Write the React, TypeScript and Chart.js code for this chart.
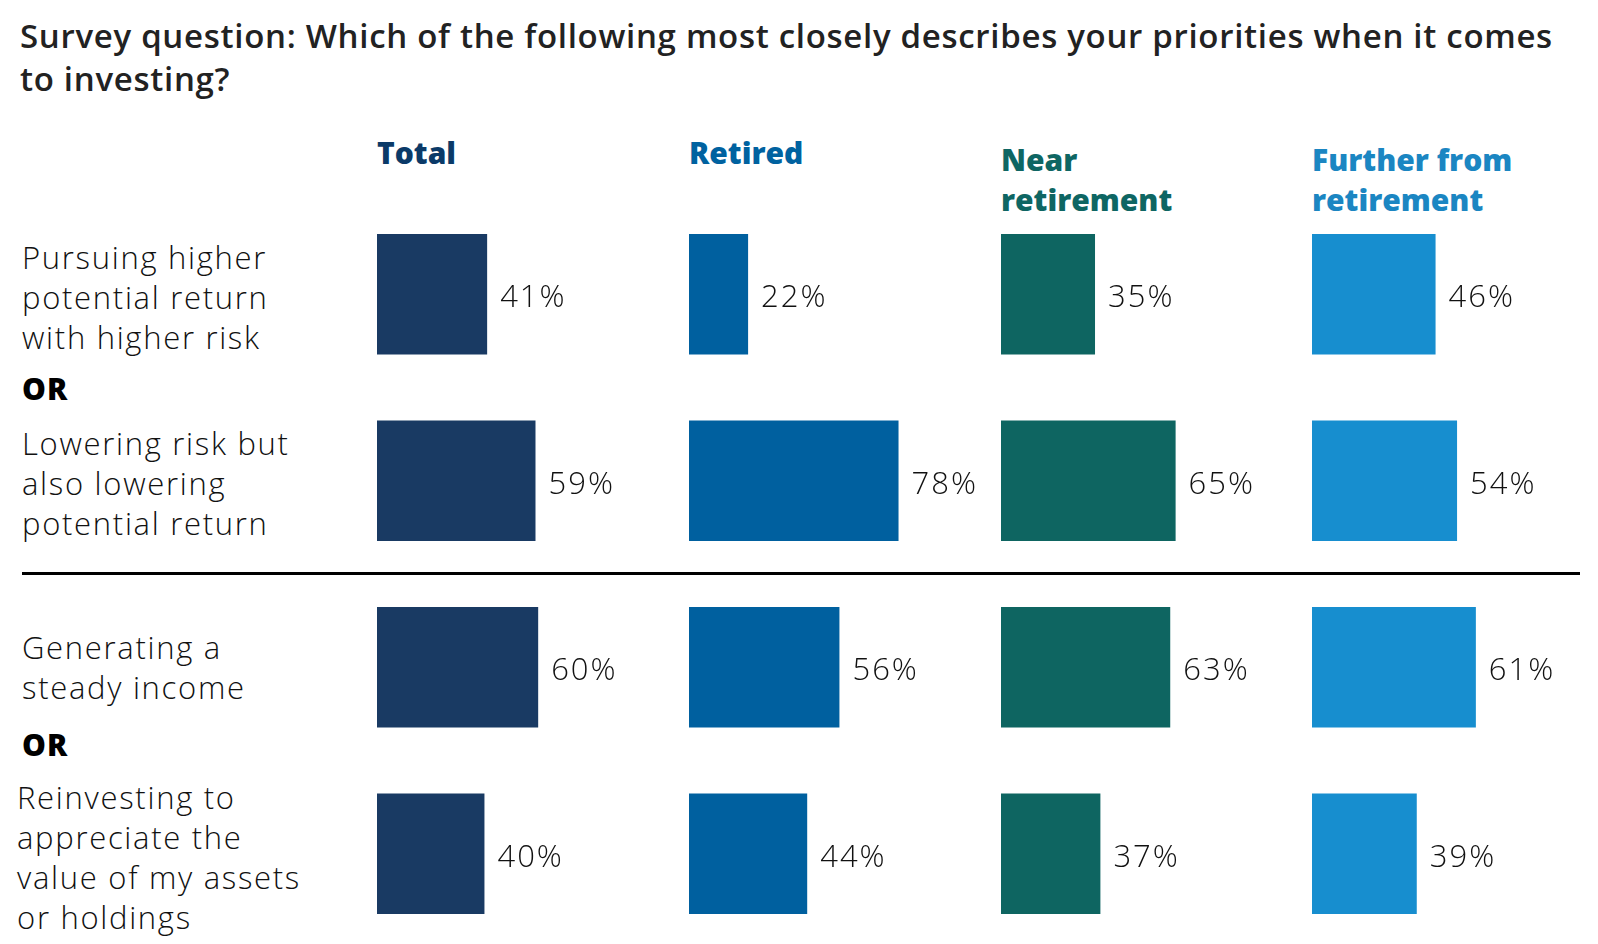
import React, { useEffect, useRef } from "react";
import { Chart, registerables } from "chart.js";

Chart.register(...registerables);

// Survey answers, one list per group (percent)
const categories = [
  "Pursuing higher potential return with higher risk",
  "Lowering risk but also lowering potential return",
  "Generating a steady income",
  "Reinvesting to appreciate the value of my assets or holdings",
];
const categoryLines = [
  ["Pursuing higher", "potential return", "with higher risk"],
  ["Lowering risk but", "also lowering", "potential return"],
  ["Generating a", "steady income"],
  ["Reinvesting to", "appreciate the", "value of my assets", "or holdings"],
];
const groups = ["Total", "Retired", "Near retirement", "Further from retirement"];
const groupLines = [["Total"], ["Retired"], ["Near", "retirement"], ["Further from", "retirement"]];
const totalValues = [41, 59, 60, 40];
const retiredValues = [22, 78, 56, 44];
const nearValues = [35, 65, 63, 37];
const furtherValues = [46, 54, 61, 39];

const seriesValues = [totalValues, retiredValues, nearValues, furtherValues];
const barColors = ["#193a63", "#00609f", "#0e6561", "#178ecf"];
const headColors = ["#0b3a68", "#0062a0", "#0e6663", "#1b86c2"];
const colLeft = [377, 689, 1001, 1312];

const FONT = "'Open Sans', 'Noto Sans', sans-serif";

// draws "41%" to the right of every bar
const valueLabels = {
  id: "valueLabels",
  afterDatasetsDraw(chart: any) {
    const ctx = chart.ctx;
    const meta = chart.getDatasetMeta(0);
    const data = chart.data.datasets[0].data;
    ctx.save();
    ctx.font = "300 31px " + FONT;
    (ctx as any).letterSpacing = "2px";
    ctx.fillStyle = "#111";
    ctx.textBaseline = "middle";
    ctx.textAlign = "left";
    meta.data.forEach((bar: any, i: number) => {
      ctx.fillText(data[i] + "%", bar.x + 13, bar.y + 4);
    });
    ctx.restore();
  },
};

const BarPanel: React.FC<{ values: number[]; color: string; left: number; label: string }> = ({
  values,
  color,
  left,
  label,
}) => {
  const chartRef = useRef<HTMLCanvasElement | null>(null);

  useEffect(() => {
    if (!chartRef.current) return;
    const chart = new Chart(chartRef.current, {
      type: "bar",
      data: {
        labels: categories,
        datasets: [
          {
            label,
            data: values,
            backgroundColor: color,
            barPercentage: 1,
            categoryPercentage: 0.645,
          },
        ],
      },
      options: {
        indexAxis: "y",
        animation: false,
        responsive: false,
        layout: { padding: 0 },
        scales: {
          x: { display: false, min: 0, max: 115.4 },
          y: { display: false },
        },
        plugins: {
          legend: { display: false },
          tooltip: { enabled: false },
        },
      },
      plugins: [valueLabels],
    });
    return () => chart.destroy();
  }, [values, color, label]);

  return (
    <canvas
      ref={chartRef}
      width={310}
      height={746}
      style={{ position: "absolute", left, top: 201, width: 310, height: 746 }}
    />
  );
};

const labelTops = [237, 423, 627, 777];
const orTops = [371, 727];

export default function App() {
  return (
    <div
      style={{
        position: "absolute",
        left: 0,
        top: 0,
        width: 1598,
        height: 944,
        background: "#fff",
        fontFamily: FONT,
        overflow: "hidden",
      }}
    >
      <div
        style={{
          position: "absolute",
          left: 20,
          top: 14,
          fontSize: 33,
          fontWeight: 600,
          letterSpacing: "0.7px",
          lineHeight: "43px",
          color: "#222",
          whiteSpace: "nowrap",
        }}
      >
        Survey question: Which of the following most closely describes your priorities when it comes
        <br />
        to investing?
      </div>

      {groupLines.map((lines, g) => (
        <div
          key={groups[g]}
          style={{
            position: "absolute",
            left: colLeft[g],
            top: lines.length > 1 ? 140 : 133,
            fontSize: 30,
            fontWeight: 800,
            lineHeight: "40px",
            color: headColors[g],
            whiteSpace: "nowrap",
          }}
        >
          {lines.map((l) => (
            <div key={l}>{l}</div>
          ))}
        </div>
      ))}

      {categoryLines.map((lines, c) => (
        <div
          key={categories[c]}
          style={{
            position: "absolute",
            left: c === 3 ? 17 : 22,
            top: labelTops[c],
            fontSize: 31,
            fontWeight: 300,
            letterSpacing: "1.7px",
            lineHeight: "40px",
            color: "#111",
            whiteSpace: "nowrap",
          }}
        >
          {lines.map((l) => (
            <div key={l}>{l}</div>
          ))}
        </div>
      ))}

      {orTops.map((t) => (
        <div
          key={t}
          style={{
            position: "absolute",
            left: 22,
            top: t,
            fontSize: 30,
            fontWeight: 800,
            letterSpacing: "1px",
            color: "#000",
            lineHeight: "36px",
          }}
        >
          OR
        </div>
      ))}

      <div
        style={{
          position: "absolute",
          left: 22,
          top: 572,
          width: 1558,
          height: 3,
          background: "#000",
        }}
      />

      {seriesValues.map((vals, g) => (
        <BarPanel key={groups[g]} values={vals} color={barColors[g]} left={colLeft[g]} label={groups[g]} />
      ))}
    </div>
  );
}
